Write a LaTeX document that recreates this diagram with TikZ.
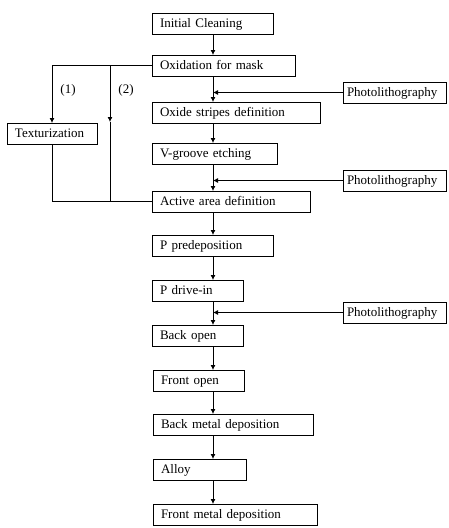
\documentclass[tikz,border=0pt]{standalone}
\usepackage{fontspec}
\setmainfont{Liberation Serif}
\usetikzlibrary{arrows.meta}
\begin{document}
\begin{tikzpicture}[x=1pt,y=-1pt,line width=0.8pt,>={Latex[length=5pt,width=5pt]}]
\tikzstyle{every node}=[font=\fontsize{13}{15}\selectfont]
\tikzstyle{stage}=[draw, line width=1pt, anchor=north west, minimum height=21pt, inner xsep=8pt, inner ysep=0pt, outer sep=0pt, text height=9pt, text depth=2pt, align=left]
\tikzstyle{litho}=[stage, inner xsep=4pt, text width=95pt]
\useasboundingbox (0,0) rectangle (448,528);
\coordinate (spine) at (213,0);
\node[stage, text width=105pt] (clean) at (152,13) {Initial Cleaning};
\node[stage, text width=127pt] (oxid) at (152,55) {Oxidation for mask};
\node[litho] (lithoA) at (343,82) {Photolithography};
\node[stage, text width=152pt] (stripes) at (152,102) {Oxide stripes definition};
\node[stage, text width=74pt] (textur) at (7,123) {Texturization};
\node[stage, text width=109pt] (vgroove) at (152,143) {V-groove etching};
\node[litho] (lithoB) at (343,170) {Photolithography};
\node[stage, text width=142pt] (active) at (152,191) {Active area definition};
\node[stage, text width=105pt] (ppre) at (152,235) {P predeposition};
\node[stage, text width=75pt] (pdrive) at (152,280) {P drive-in};
\node[litho] (lithoC) at (343,302) {Photolithography};
\node[stage, text width=75pt] (backopen) at (152,325) {Back open};
\node[stage, text width=75pt] (frontopen) at (153,370) {Front open};
\node[stage, text width=144pt] (backmetal) at (153,414) {Back metal deposition};
\node[stage, text width=77pt] (alloy) at (153,459) {Alloy};
\node[stage, text width=148pt] (frontmetal) at (153,504) {Front metal deposition};
%%%%%%%%%%%%%
\draw[->] (clean.south -| spine) -- (oxid.north -| spine);
\draw[->] (oxid.south -| spine) -- (stripes.north -| spine);
\draw[->] (stripes.south -| spine) -- (vgroove.north -| spine);
\draw[->] (vgroove.south -| spine) -- (active.north -| spine);
\draw[->] (active.south -| spine) -- (ppre.north -| spine);
\draw[->] (ppre.south -| spine) -- (pdrive.north -| spine);
\draw[->] (pdrive.south -| spine) -- (backopen.north -| spine);
\draw[->] (backopen.south -| spine) -- (frontopen.north -| spine);
\draw[->] (frontopen.south -| spine) -- (backmetal.north -| spine);
\draw[->] (backmetal.south -| spine) -- (alloy.north -| spine);
\draw[->] (alloy.south -| spine) -- (frontmetal.north -| spine);
%%%%%%%%%%%%%
\draw[->] (lithoA.west) -- (lithoA.west -| spine);
\draw[->] (lithoB.west) -- (lithoB.west -| spine);
\draw[->] (lithoC.west) -- (lithoC.west -| spine);
%%%%%%%%%%%%%
\coordinate (fork) at (110,122);
\draw[->] (oxid.west) -| (textur.north);
\draw[->] (oxid.west -| fork) -- (fork);
\draw (fork) -- (active.west -| fork);
\draw (textur.south) |- (active.west);
%%%%%%%%%%%%%
\node (way1) at (68,90) {(1)};
\node (way2) at (126,90) {(2)};
\end{tikzpicture}
\end{document}
